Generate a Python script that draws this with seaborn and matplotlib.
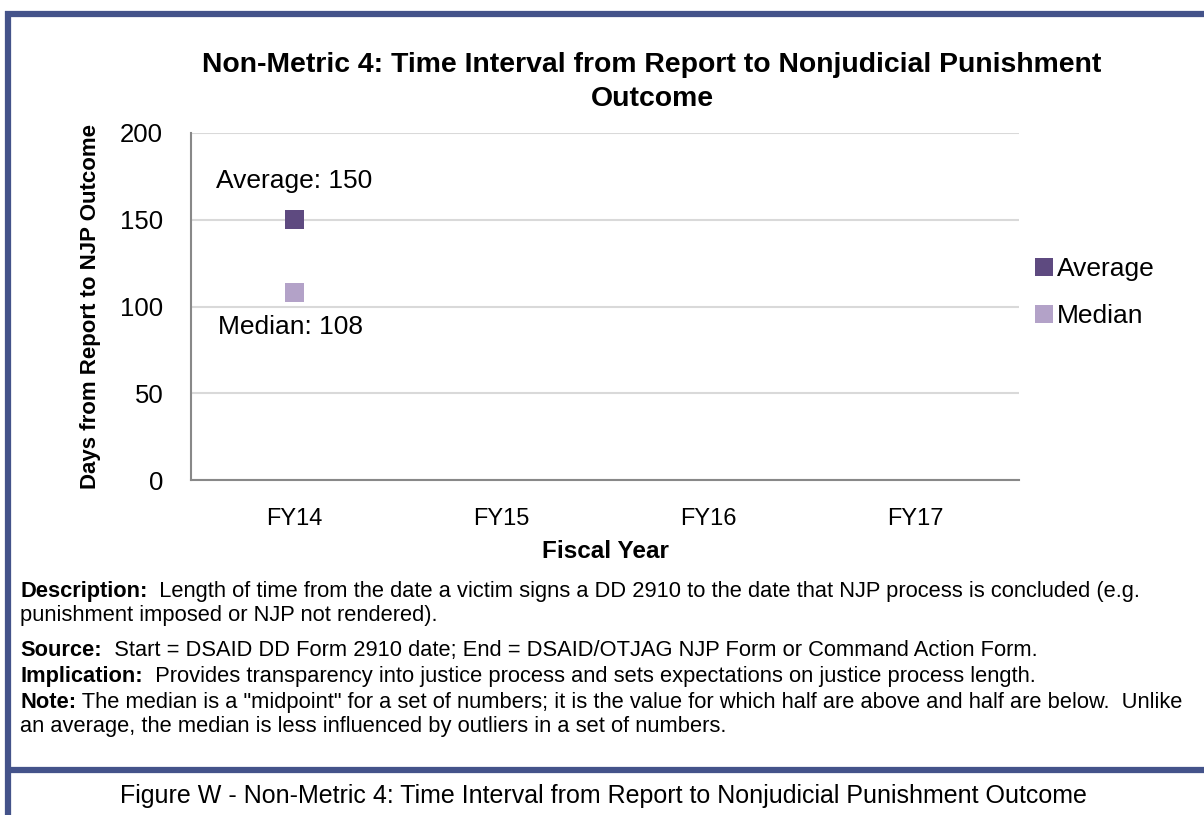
import numpy as np
import pandas as pd
import matplotlib
matplotlib.use('Agg')
import matplotlib.pyplot as plt
import seaborn as sns
from matplotlib.lines import Line2D
from matplotlib.ticker import FixedLocator

# data
years = ['FY14', 'FY15', 'FY16', 'FY17']
average_days = [150, np.nan, np.nan, np.nan]
median_days = [108, np.nan, np.nan, np.nan]
series_names = ['Average', 'Median']
series_colors = ['#5E4A80', '#B3A2C8']
y_ticks = [0, 50, 100, 150, 200]

title = 'Non-Metric 4: Time Interval from Report to Nonjudicial Punishment\nOutcome'
caption = 'Figure W - Non-Metric 4: Time Interval from Report to Nonjudicial Punishment Outcome'
notes = [
    ('Description:', '  Length of time from the date a victim signs a DD 2910 to the date that NJP process is concluded (e.g.'),
    ('', 'punishment imposed or NJP not rendered).'),
    ('Source:', '  Start = DSAID DD Form 2910 date; End = DSAID/OTJAG NJP Form or Command Action Form.'),
    ('Implication:', '  Provides transparency into justice process and sets expectations on justice process length.'),
    ('Note:', ' The median is a "midpoint" for a set of numbers; it is the value for which half are above and half are below.  Unlike'),
    ('', 'an average, the median is less influenced by outliers in a set of numbers.'),
]

df = pd.DataFrame({
    'year': years * 2,
    'measure': ['Average'] * 4 + ['Median'] * 4,
    'days': average_days + median_days,
})

sns.set_style('white')
plt.rcParams['font.family'] = ['Liberation Sans', 'DejaVu Sans']
for key in ['text.color', 'axes.labelcolor', 'xtick.color', 'ytick.color']:
    plt.rcParams[key] = 'black'
border = '#44538A'

fig = plt.figure(figsize=(12.04, 8.15), dpi=100)
ax = fig.add_axes([191 / 1204, 1 - 480 / 815, (1019 - 191) / 1204, (480 - 133) / 815])

sns.stripplot(data=df, x='year', y='days', hue='measure', order=years,
              hue_order=series_names, palette=series_colors, jitter=False,
              dodge=False, marker='s', size=14, linewidth=0, ax=ax)

ax.set_ylim(0, 200)
ax.set_xlim(-0.5, len(years) - 0.5)
ax.set_yticks(y_ticks)
ax.yaxis.grid(True, color='#D9D9D9', linewidth=1.5)
ax.set_axisbelow(True)
for s in ['top', 'right']:
    ax.spines[s].set_visible(False)
for s in ['left', 'bottom']:
    ax.spines[s].set_color('#888888')
    ax.spines[s].set_linewidth(1.5)
ax.tick_params(axis='y', which='major', length=8, width=1.5, color='#888888',
               labelsize=18.5, pad=12)
ax.tick_params(axis='x', which='major', length=0, labelsize=17, pad=20)
ax.xaxis.set_minor_locator(FixedLocator(np.arange(-0.5, len(years), 1.0)))
ax.tick_params(axis='x', which='minor', length=8, width=1.5, color='#888888', direction='out')

ax.set_xlabel('Fiscal Year', fontsize=17.5, fontweight='bold', labelpad=7)
ax.set_ylabel('Days from Report to NJP Outcome', fontsize=16, fontweight='bold', labelpad=14)

ax.annotate(f'Average: {average_days[0]}', (0, average_days[0]), xytext=(0, 28),
            textcoords='offset points', ha='center', va='center', fontsize=19)
ax.annotate(f'Median: {median_days[0]}', (0, median_days[0]), xytext=(-3, -25),
            textcoords='offset points', ha='center', va='center', fontsize=19)

ax.legend(loc='center left', bbox_to_anchor=(1.0, 0.54), frameon=False, fontsize=19,
          handletextpad=0.15, handlelength=0.7, labelspacing=0.85, markerscale=0.95,
          borderaxespad=0.2)

fig.text(652 / 1204, 1 - 82 / 815, title, ha='center', va='center', fontsize=20.4,
         fontweight='bold', linespacing=1.4)

# frame lines
fig.add_artist(Line2D([7.5 / 1204, 7.5 / 1204], [0, 1 - 11 / 815], color=border, lw=4.5,
                      solid_capstyle='butt'))
fig.add_artist(Line2D([5 / 1204, 1], [1 - 13.5 / 815, 1 - 13.5 / 815], color=border, lw=4.5,
                      solid_capstyle='butt'))
fig.add_artist(Line2D([5 / 1204, 1], [1 - 770 / 815, 1 - 770 / 815], color=border, lw=4.5,
                      solid_capstyle='butt'))

# notes block
fig.canvas.draw()
renderer = fig.canvas.get_renderer()
line_y = [597, 621, 656, 682, 708, 732]
for (label, body), y in zip(notes, line_y):
    x = 20 / 1204
    if label:
        t = fig.text(x, 1 - y / 815, label, ha='left', va='baseline', fontsize=15.75,
                     fontweight='bold')
        bb = t.get_window_extent(renderer)
        x = bb.x1 / fig.bbox.width
    fig.text(x, 1 - y / 815, body, ha='left', va='baseline', fontsize=15.75)

fig.text(603 / 1204, 1 - 796 / 815, caption, ha='center', va='center', fontsize=18)

fig.savefig('out.png', dpi=100)
